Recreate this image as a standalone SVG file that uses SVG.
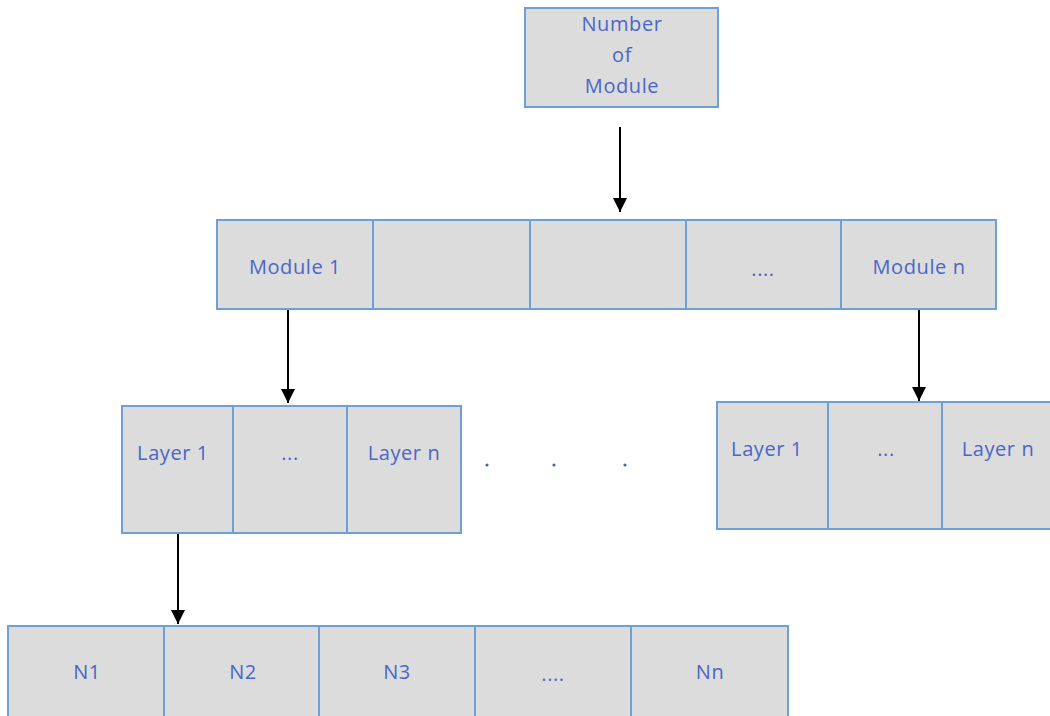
<svg xmlns="http://www.w3.org/2000/svg" width="1050" height="716" viewBox="0 0 1050 716">
<defs>
<style>
.box{fill:#DCDCDC;stroke:#6E9FD5;stroke-width:2}
.div{stroke:#6E9FD5;stroke-width:2}
.t{font-family:"Open Sans","Liberation Sans",sans-serif;font-size:20px;letter-spacing:0.6px;fill:#4A66C8;text-anchor:middle;dominant-baseline:central}
.c{stroke:#000;stroke-width:2;fill:none}
</style>
<marker id="a2" markerWidth="14" markerHeight="14" refX="7" refY="14" orient="0" markerUnits="userSpaceOnUse" viewBox="0 0 14 14">
<path d="M0,0 L14,0 L7,14 Z" fill="#000"/>
</marker>
</defs>
<rect width="1050" height="716" fill="#fff"/>
<g id="number-of-module">
<rect class="box" x="525" y="8" width="193" height="99"/>
<text class="t" x="622" y="23">Number</text>
<text class="t" x="622" y="54">of</text>
<text class="t" x="622" y="85">Module</text>
</g>
<g id="modules">
<rect class="box" x="217" y="220" width="779" height="89"/>
<line class="div" x1="373" y1="220" x2="373" y2="309"/>
<line class="div" x1="530" y1="220" x2="530" y2="309"/>
<line class="div" x1="686" y1="220" x2="686" y2="309"/>
<line class="div" x1="841" y1="220" x2="841" y2="309"/>
<text class="t" x="295" y="266">Module 1</text>
<text class="t" x="763" y="268">....</text>
<text class="t" x="919" y="266">Module n</text>
</g>
<g id="layers-left">
<rect class="box" x="122" y="406" width="339" height="127"/>
<line class="div" x1="233" y1="406" x2="233" y2="533"/>
<line class="div" x1="347" y1="406" x2="347" y2="533"/>
<text class="t" x="173" y="452">Layer 1</text>
<text class="t" x="290" y="452">...</text>
<text class="t" x="404" y="452">Layer n</text>
</g>
<g id="dots">
<circle cx="487" cy="465" r="1.6" fill="#3E6AA8"/>
<circle cx="554" cy="465" r="1.6" fill="#3E6AA8"/>
<circle cx="625" cy="465" r="1.6" fill="#3E6AA8"/>
</g>
<g id="layers-right">
<rect class="box" x="717" y="402" width="345" height="127"/>
<line class="div" x1="828" y1="402" x2="828" y2="529"/>
<line class="div" x1="942" y1="402" x2="942" y2="529"/>
<text class="t" x="767" y="448">Layer 1</text>
<text class="t" x="886" y="448">...</text>
<text class="t" x="998" y="448">Layer n</text>
</g>
<g id="neurons">
<rect class="box" x="8" y="626" width="780" height="100"/>
<line class="div" x1="164" y1="626" x2="164" y2="716"/>
<line class="div" x1="319" y1="626" x2="319" y2="716"/>
<line class="div" x1="475" y1="626" x2="475" y2="716"/>
<line class="div" x1="631" y1="626" x2="631" y2="716"/>
<text class="t" x="87" y="671">N1</text>
<text class="t" x="243" y="671">N2</text>
<text class="t" x="397" y="671">N3</text>
<text class="t" x="553" y="673">....</text>
<text class="t" x="710" y="671">Nn</text>
</g>
<g id="connectors">
<line class="c" x1="620" y1="127" x2="620" y2="212" marker-end="url(#a2)"/>
<line class="c" x1="288" y1="310" x2="288" y2="403" marker-end="url(#a2)"/>
<line class="c" x1="919" y1="310" x2="919" y2="401" marker-end="url(#a2)"/>
<line class="c" x1="178" y1="534" x2="178" y2="624" marker-end="url(#a2)"/>
</g>
</svg>
